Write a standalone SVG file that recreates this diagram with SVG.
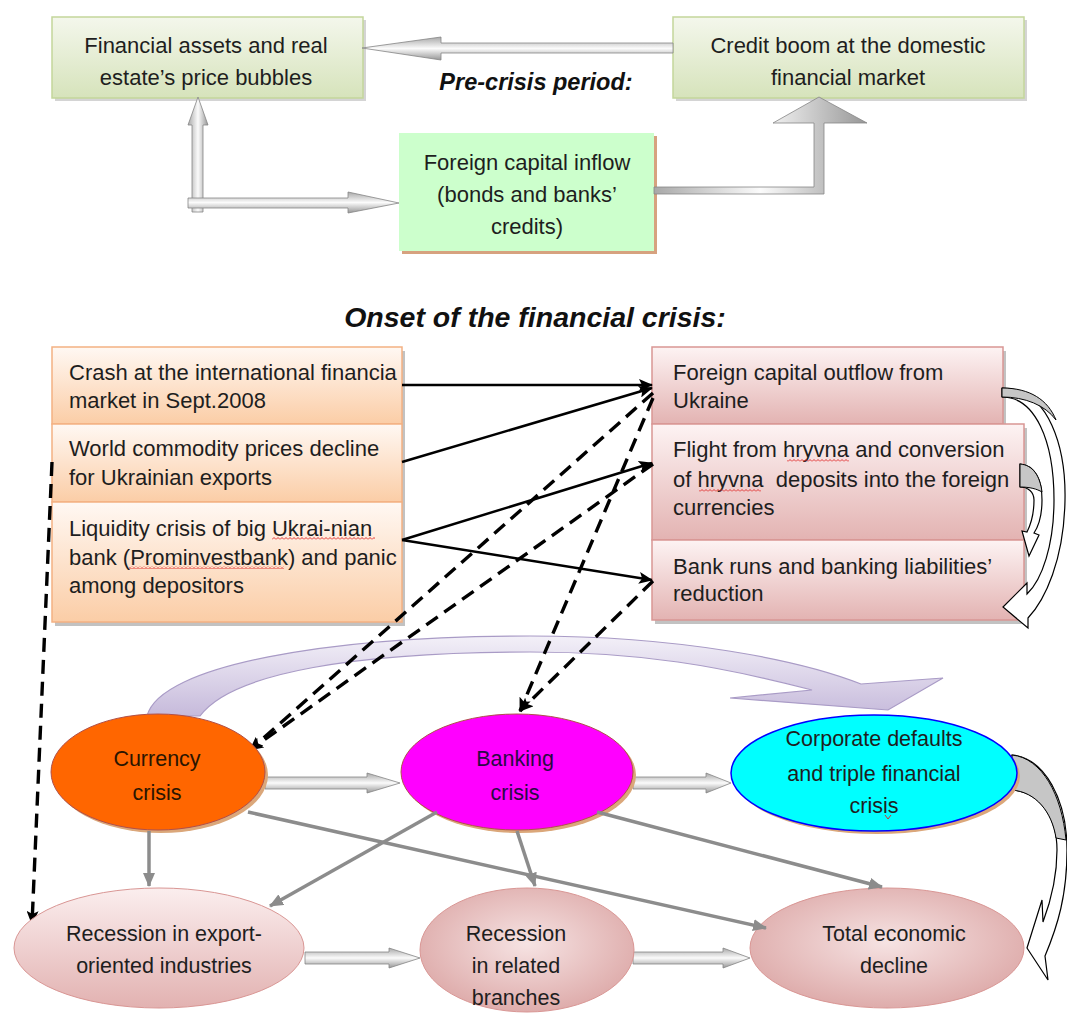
<svg xmlns="http://www.w3.org/2000/svg" width="1067" height="1021" viewBox="0 0 1067 1021">
<style>
.t{font-family:"Liberation Sans",Arial,sans-serif;font-size:22px;fill:#1e1e1e}
.e{font-family:"Liberation Sans",Arial,sans-serif;font-size:21.5px;fill:#1e1e1e}
.m{text-anchor:middle}
.h{font-family:"Liberation Sans",Arial,sans-serif;font-weight:bold;font-style:italic;fill:#111;text-anchor:middle}
.blk{stroke:#000;stroke-width:2.5;fill:none;marker-end:url(#ab)}
.dsh{stroke:#000;stroke-width:3.4;fill:none;stroke-dasharray:14 8;marker-end:url(#ab)}
.gry{stroke:#8c8c8c;stroke-width:3.5;fill:none;marker-end:url(#ag)}
.blkarr{fill:url(#gh);stroke:#858585;stroke-width:0.8}
.curv{fill:#fff;stroke:#000;stroke-width:1.2}
.wedge{fill:#c6c6c6;stroke:#000;stroke-width:1}
.sq{fill:url(#squig)}
</style>
<defs>
<linearGradient id="gGreen" x1="0" y1="0" x2="0" y2="1"><stop offset="0" stop-color="#f4f7ec"/><stop offset="1" stop-color="#d6e3bb"/></linearGradient>
<linearGradient id="gOr" x1="0" y1="0" x2="0" y2="1"><stop offset="0" stop-color="#fff8f3"/><stop offset="1" stop-color="#fbcda6"/></linearGradient>
<linearGradient id="gPk" x1="0" y1="0" x2="0" y2="1"><stop offset="0" stop-color="#fdf3f3"/><stop offset="1" stop-color="#e3b3b2"/></linearGradient>
<linearGradient id="gEl" x1="0" y1="0" x2="0" y2="1"><stop offset="0" stop-color="#fbeeee"/><stop offset="1" stop-color="#e2b2b1"/></linearGradient>
<radialGradient id="gEl2" cx="0.5" cy="0.45" r="0.6"><stop offset="0" stop-color="#f6e3e3"/><stop offset="1" stop-color="#dca7a6"/></radialGradient>
<linearGradient id="gh" x1="0" y1="0" x2="0" y2="1"><stop offset="0" stop-color="#a8a8a8"/><stop offset="0.5" stop-color="#fbfbfb"/><stop offset="1" stop-color="#979797"/></linearGradient>
<linearGradient id="gv" x1="0" y1="0" x2="1" y2="0"><stop offset="0" stop-color="#a8a8a8"/><stop offset="0.5" stop-color="#fbfbfb"/><stop offset="1" stop-color="#979797"/></linearGradient>
<linearGradient id="gPur" x1="0" y1="0" x2="0" y2="1"><stop offset="0" stop-color="#f3f0f8"/><stop offset="1" stop-color="#c6badb"/></linearGradient>
<pattern id="squig" width="4" height="3" patternUnits="userSpaceOnUse"><path d="M0,2.5 L2,0.5 L4,2.5" stroke="#e02020" stroke-width="0.9" fill="none"/></pattern>
<marker id="ab" viewBox="0 0 14 12" refX="13" refY="6" markerWidth="14" markerHeight="12" markerUnits="userSpaceOnUse" orient="auto"><path d="M0,0 L14,6 L0,12 L3,6 Z" fill="#000"/></marker>
<marker id="ag" viewBox="0 0 14 12" refX="13" refY="6" markerWidth="14" markerHeight="12" markerUnits="userSpaceOnUse" orient="auto"><path d="M0,0 L14,6 L0,12 Z" fill="#8c8c8c"/></marker>
</defs>

<text class="h" x="536" y="90" font-size="23.5">Pre-crisis period:</text>
<text class="h" x="535" y="327" font-size="28.5">Onset of the financial crisis:</text>

<g id="node-bubbles">
<rect x="55" y="20" width="311" height="81" fill="#b8b8b8" opacity="0.6"/>
<rect x="52" y="17" width="311" height="81" fill="url(#gGreen)" stroke="#c3d69b" stroke-width="1.5"/>
<text class="t m" x="206" y="53">Financial assets and real</text>
<text class="t m" x="206" y="85">estate’s price bubbles</text>
</g>
<g id="node-creditboom">
<rect x="676" y="20" width="351" height="81" fill="#b8b8b8" opacity="0.6"/>
<rect x="673" y="17" width="351" height="81" fill="url(#gGreen)" stroke="#c3d69b" stroke-width="1.5"/>
<text class="t m" x="848" y="53">Credit boom at the domestic</text>
<text class="t m" x="848" y="85">financial market</text>
</g>
<g id="node-inflow">
<rect x="402" y="136" width="255" height="118" fill="#d6a27f"/>
<rect x="399" y="133" width="255" height="118" fill="#ccffcc"/>
<text class="t m" x="527" y="170">Foreign capital inflow</text>
<text class="t m" x="527" y="202">(bonds and banks’</text>
<text class="t m" x="527" y="234">credits)</text>
</g>

<g id="node-shocks">
<rect x="55" y="351" width="350" height="275" fill="#9a9a9a" opacity="0.6"/>
<g id="node-crash">
<rect x="52" y="347" width="350" height="77" fill="url(#gOr)" stroke="#f4b183" stroke-width="1.5"/>
<text class="t" x="69" y="380">Crash at the international financia</text>
<text class="t" x="69" y="408">market in Sept.2008</text>
</g>
<g id="node-commodity">
<rect x="52" y="424" width="350" height="78" fill="url(#gOr)" stroke="#f4b183" stroke-width="1.5"/>
<text class="t" x="69" y="456">World commodity prices decline</text>
<text class="t" x="69" y="485">for Ukrainian exports</text>
</g>
<g id="node-liquidity">
<rect x="52" y="502" width="350" height="120" fill="url(#gOr)" stroke="#f4b183" stroke-width="1.5"/>
<text class="t" x="69" y="536">Liquidity crisis of big Ukrai-nian</text>
<text class="t" x="69" y="565">bank (Prominvestbank) and panic</text>
<text class="t" x="69" y="593">among depositors</text>
<rect class="sq" x="272" y="537" width="103" height="3"/>
<rect class="sq" x="129" y="566" width="155" height="3"/>
</g>
</g>

<g id="node-outflow">
<rect x="655" y="351" width="351" height="77" fill="#9a9a9a" opacity="0.6"/>
<rect x="652" y="347" width="351" height="77" fill="url(#gPk)" stroke="#d99694" stroke-width="1.5"/>
<text class="t" x="673" y="380">Foreign capital outflow from</text>
<text class="t" x="673" y="408">Ukraine</text>
</g>
<g id="node-flight">
<rect x="655" y="428" width="372" height="116" fill="#9a9a9a" opacity="0.6"/>
<rect x="652" y="424" width="372" height="116" fill="url(#gPk)" stroke="#d99694" stroke-width="1.5"/>
<text class="t" x="673" y="457">Flight from hryvna and conversion</text>
<text class="t" x="673" y="487" style="white-space:pre">of hryvna  deposits into the foreign</text>
<text class="t" x="673" y="515">currencies</text>
<rect class="sq" x="787" y="459" width="62" height="3"/>
<rect class="sq" x="699" y="489" width="62" height="3"/>
</g>
<g id="node-bankruns">
<rect x="655" y="544" width="372" height="80" fill="#9a9a9a" opacity="0.6"/>
<rect x="652" y="540" width="372" height="80" fill="url(#gPk)" stroke="#d99694" stroke-width="1.5"/>
<text class="t" x="673" y="574">Bank runs and banking liabilities’</text>
<text class="t" x="673" y="601">reduction</text>
</g>

<g id="connectors">
<path d="M147,716 C160,665 330,636 530,636 C680,636 800,660 861,684 L943,678 L888,710 L730,698 L812,690 C720,666 640,652 530,652 C360,652 232,672 200,716 Z" fill="url(#gPur)" stroke="#a99bc6" stroke-width="1.2"/>

<path class="blkarr" d="M673,43 L441,43 L441,37 L362,48 L441,60 L441,53 L673,53 Z"/>
<path d="M192,212 L192,125 L188,125 L198,97 L208,125 L203,125 L203,212 Z" fill="url(#gv)" stroke="#858585" stroke-width="0.8"/>
<path class="blkarr" d="M188,198 L348,198 L348,192 L399,203 L348,213 L348,208 L188,208 Z"/>
<path d="M654,187 L814,187 L814,123 L773,123 L819,97 L867,123 L824,123 L824,194 L654,194 Z" fill="url(#gv)" stroke="#858585" stroke-width="0.8"/>

<path class="blkarr" d="M265,777 L367,777 L367,773 L400,783 L367,793 L367,789 L265,789 Z"/>
<path class="blkarr" d="M633,777 L706,777 L706,773 L731,783 L706,793 L706,789 L633,789 Z"/>
<path class="blkarr" d="M305,952 L389,952 L389,948 L420,958 L389,968 L389,964 L305,964 Z"/>
<path class="blkarr" d="M633,952 L723,952 L723,948 L750,958 L723,968 L723,964 L633,964 Z"/>

<line class="blk" x1="402" y1="385" x2="652" y2="385"/>
<line class="blk" x1="402" y1="462" x2="652" y2="388"/>
<line class="blk" x1="402" y1="540" x2="652" y2="463"/>
<line class="blk" x1="402" y1="540" x2="652" y2="580"/>

<line class="dsh" x1="653" y1="393" x2="250" y2="750"/>
<line class="dsh" x1="653" y1="464" x2="250" y2="750"/>
<line class="dsh" x1="653" y1="398" x2="520" y2="711"/>
<line class="dsh" x1="653" y1="581" x2="520" y2="711"/>
<line class="dsh" x1="52" y1="462" x2="32" y2="924"/>

<path class="curv" d="M1002,388 C1050,388 1066,450 1065,500 C1064,560 1045,600 1028,618 L1028,628 L1003,607 L1027,583 L1027,594 C1042,580 1054,545 1054,500 C1054,440 1035,397 1002,397 Z"/>
<path class="wedge" d="M1002,388 C1030,388 1048,400 1056,420 C1045,405 1025,397 1002,397 Z"/>
<path class="curv" d="M1020,464 C1035,465 1042,480 1042,500 C1042,515 1038,527 1034,533 L1039,535 L1029,556 L1022,531 L1027,532 C1031,524 1034,512 1034,500 C1034,492 1028,487 1020,487 Z"/>
<path class="wedge" d="M1020,464 C1033,465 1040,476 1042,492 C1037,489 1030,487 1020,487 Z"/>
<path class="curv" d="M1012,755 C1045,758 1067,800 1067,850 C1067,895 1058,925 1045,956 L1048,980 L1027,948 L1042,900 L1043,922 C1052,898 1057,875 1057,850 C1057,818 1040,792 1012,790 Z"/>
<path class="wedge" d="M1012,755 C1042,758 1062,795 1066,840 L1056,838 C1052,812 1036,792 1012,790 Z"/>
</g>

<g id="node-currency">
<ellipse cx="161" cy="775" rx="107" ry="58" fill="#dba77a"/>
<ellipse cx="158" cy="772" rx="107" ry="58" fill="#ff6600" stroke="#b0504a" stroke-width="1"/>
<text class="e m" x="157" y="766" style="fill:#2a1500">Currency</text>
<text class="e m" x="157" y="800" style="fill:#2a1500">crisis</text>
</g>
<g id="node-banking">
<ellipse cx="520" cy="775" rx="116" ry="58" fill="#dba77a"/>
<ellipse cx="517" cy="772" rx="116" ry="58" fill="#ff00ff" stroke="#b0504a" stroke-width="1"/>
<text class="e m" x="515" y="766" style="fill:#2a0a45">Banking</text>
<text class="e m" x="515" y="800" style="fill:#2a0a45">crisis</text>
</g>
<g id="node-corporate">
<ellipse cx="877" cy="776" rx="143" ry="58" fill="#dba77a"/>
<ellipse cx="874" cy="773" rx="143" ry="58" fill="#00ffff" stroke="#0000ff" stroke-width="1.5"/>
<text class="e m" x="874" y="746">Corporate defaults</text>
<text class="e m" x="874" y="781">and triple financial</text>
<text class="e m" x="874" y="813">crisis</text>
<path d="M885,815 L888,819 L891,815" stroke="#e02020" stroke-width="0.9" fill="none"/>
</g>
<g id="node-export">
<ellipse cx="159" cy="948" rx="145" ry="60" fill="url(#gEl)" stroke="#d99694" stroke-width="1"/>
<text class="e m" x="164" y="941">Recession in export-</text>
<text class="e m" x="164" y="973">oriented industries</text>
</g>
<g id="node-related">
<ellipse cx="527" cy="950" rx="107" ry="62" fill="url(#gEl2)" stroke="#d99694" stroke-width="1"/>
<text class="e m" x="516" y="941">Recession</text>
<text class="e m" x="516" y="973">in related</text>
<text class="e m" x="516" y="1005">branches</text>
</g>
<g id="node-total">
<ellipse cx="887" cy="948" rx="137" ry="60" fill="url(#gEl2)" stroke="#d99694" stroke-width="1"/>
<text class="e m" x="894" y="941">Total economic</text>
<text class="e m" x="894" y="973">decline</text>
</g>

<g id="connectors-gray">
<line class="gry" x1="149" y1="831" x2="149" y2="886"/>
<line class="gry" x1="248" y1="812" x2="766" y2="928"/>
<line class="gry" x1="437" y1="812" x2="270" y2="906"/>
<line class="gry" x1="517" y1="831" x2="535" y2="886"/>
<line class="gry" x1="597" y1="812" x2="882" y2="887"/>
</g>
</svg>
